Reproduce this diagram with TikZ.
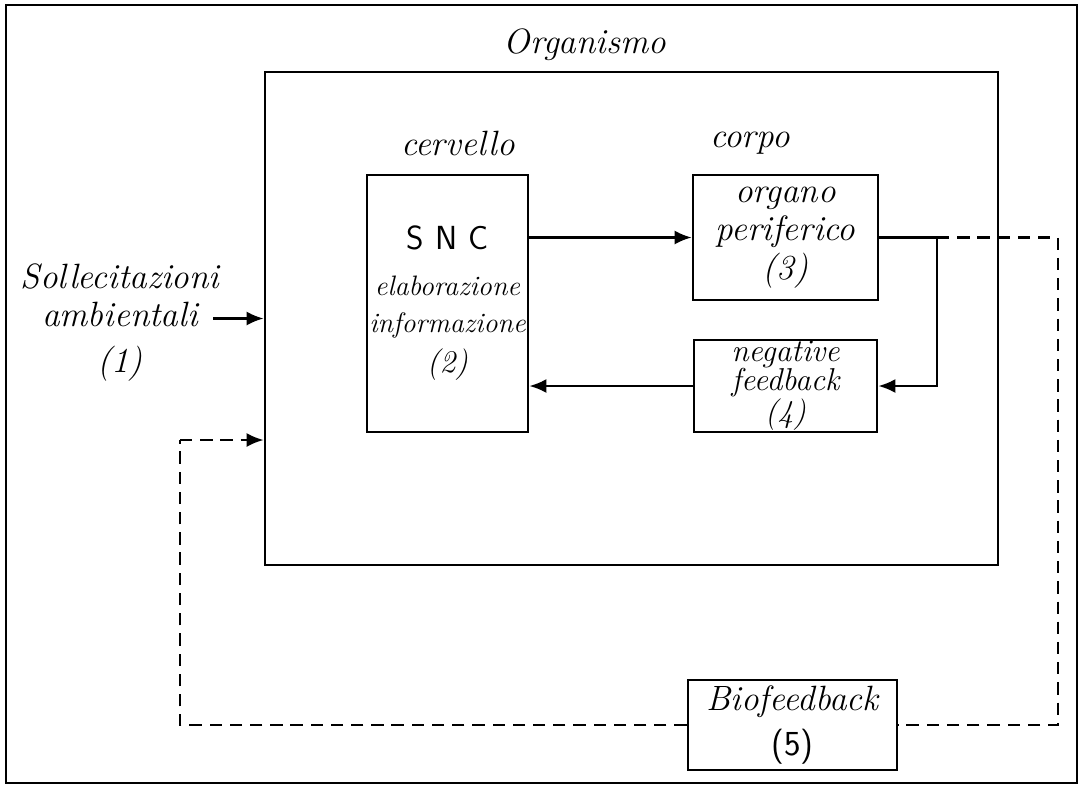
\documentclass[tikz,border=0pt]{standalone}
\usepackage{tikz}
\usetikzlibrary{arrows.meta,positioning}

\begin{document}
\begin{tikzpicture}[
  font=\fontsize{20}{22}\selectfont\itshape,
  box/.style={draw, line width=1.5pt, align=center, inner sep=0pt},
  lbl/.style={align=center},
  arr/.style={-{Latex[length=3.4mm, width=2.8mm]}, line width=1.4pt},
  link/.style={line width=1.4pt},
  bioline/.style={line width=1.4pt, dash pattern=on 7pt off 4.5pt},
]
\useasboundingbox (0,0) rectangle (21.66,-15.76);

% outer frame
\node[box, line width=1.6pt, minimum width=21.42cm, minimum height=15.56cm] (frame) at (10.83,-7.88) {};

% organism and its parts
\node[box, minimum width=14.66cm, minimum height=9.86cm] (org) at (12.63,-6.37) {};
\node[lbl] (orglbl) at (11.7,-0.9) {Organismo};

\node[box, minimum width=3.22cm, minimum height=5.14cm, font=\fontsize{16}{21}\selectfont\itshape] (snc) at (8.95,-6.07)
  {{\upshape\sffamily\fontsize{19}{21}\selectfont S\,\,N\,\,C}\\[5pt]elaborazione\\informazione\\[2pt]{\fontsize{18}{21}\selectfont(2)}};
\node[lbl] (cerv) at (9.16,-2.86) {cervello};

\node[box, minimum width=3.7cm, minimum height=2.5cm] (organo) at (15.71,-4.75)
  {organo\\periferico\\(3)};
\node[lbl] (corpo) at (15.0,-2.86) {corpo};

\node[box, minimum width=3.66cm, minimum height=1.84cm, font=\fontsize{18}{16.5}\selectfont\itshape] (neg) at (15.71,-7.72)
  {negative\\feedback\\(4)};

% environment input
\node[lbl] (soll) at (2.4,-6.45) {Sollecitazioni\\ambientali\\[4pt](1)};
\coordinate (sin) at (4.26,-6.37);

% biofeedback loop
\node[box, minimum width=4.18cm, minimum height=1.8cm] (bio) at (15.85,-14.5)
  {Biofeedback\\[4pt]{\upshape\sffamily(5)}};
\coordinate (split) at (18.74,-4.75);

% solid connections
\draw[arr] (sin) -- (org.west);
\draw[arr] (snc.east |- organo.west) -- (organo.west);
\draw[link] (organo.east) -- (split);
\draw[arr] (split) |- (neg.east);
\draw[arr] (neg.west) -- (snc.east |- neg.west);

% dashed biofeedback path
\draw[bioline] (split) -- (21.16,-4.75) |- (bio.east);
\draw[bioline] (bio.west) -| (3.6,-8.8) coordinate (back);
\draw[bioline, -{Latex[length=3.4mm, width=2.8mm]}] (back) -- (org.west |- back);
\end{tikzpicture}
\end{document}
